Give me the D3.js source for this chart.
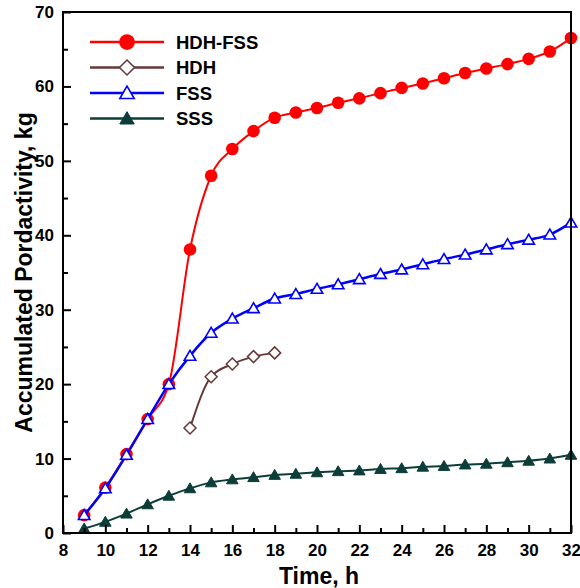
<!DOCTYPE html>
<html>
<head>
<meta charset="utf-8">
<script src="https://cdn.jsdelivr.net/npm/d3@7"></script>
<style>
  body { margin: 0; background: #fff; }
  text { font-family: "Liberation Sans", Arial, sans-serif; font-weight: bold; }
</style>
</head>
<body>
<div id="chart"></div>
<script>
// Chart data.
var hours = [9, 10, 11, 12, 13, 14, 15, 16, 17, 18, 19, 20, 21, 22, 23, 24, 25, 26, 27, 28, 29, 30, 31, 32];
var hdhFss = [2.4, 6.1, 10.6, 15.3, 20.0, 38.1, 48.0, 51.6, 54.0, 55.8, 56.5, 57.1, 57.8, 58.4, 59.1, 59.8, 60.4, 61.1, 61.8, 62.4, 63.0, 63.7, 64.7, 66.5];
var hdhHours = [14, 15, 16, 17, 18];
var hdh = [14.1, 21.0, 22.7, 23.7, 24.2];
var fss = [2.4, 6.0, 10.5, 15.3, 20.0, 23.8, 26.9, 28.8, 30.2, 31.5, 32.1, 32.8, 33.4, 34.1, 34.8, 35.4, 36.1, 36.8, 37.4, 38.1, 38.8, 39.4, 40.1, 41.7];
var sss = [0.6, 1.5, 2.6, 3.85, 5.0, 6.0, 6.8, 7.2, 7.5, 7.8, 7.95, 8.15, 8.3, 8.4, 8.6, 8.7, 8.9, 9.0, 9.2, 9.3, 9.5, 9.7, 10.0, 10.5];
var xTicks = [8, 10, 12, 14, 16, 18, 20, 22, 24, 26, 28, 30, 32];
var yTicks = [0, 10, 20, 30, 40, 50, 60, 70];

var width = 580;
var height = 588;
var margin = { top: 12, right: 9, bottom: 55, left: 63 };

var series = [
  { name: "HDH-FSS", x: hours, y: hdhFss, color: "#ff0000", marker: "circle", fill: true, lw: 2 },
  { name: "HDH", x: hdhHours, y: hdh, color: "#663838", marker: "diamond", fill: false, lw: 2 },
  { name: "FSS", x: hours, y: fss, color: "#0000ff", marker: "triangle", fill: false, lw: 2.5 },
  { name: "SSS", x: hours, y: sss, color: "#0c3d38", marker: "triangle", fill: true, lw: 2 }
];

var svg = d3.select("#chart").append("svg")
  .attr("width", width)
  .attr("height", height);

var x = d3.scaleLinear().domain([8, 32]).range([margin.left, width - margin.right]);
var y = d3.scaleLinear().domain([0, 70]).range([height - margin.bottom, margin.top]);

// Draw a marker shape centred at (cx, cy).
function drawMarker(g, s, cx, cy, k) {
  if (s.marker == "circle") {
    g.append("circle").attr("cx", cx).attr("cy", cy).attr("r", 6.3 * k)
      .attr("fill", s.color).attr("stroke", "none");
  } else if (s.marker == "diamond") {
    var d = 6 * k;
    g.append("path")
      .attr("d", "M" + cx + "," + (cy - d) + "L" + (cx + d) + "," + cy + "L" + cx + "," + (cy + d) + "L" + (cx - d) + "," + cy + "Z")
      .attr("fill", "#fff").attr("stroke", s.color).attr("stroke-width", 1.5);
  } else {
    var h = 5.5 * k;
    g.append("path")
      .attr("d", "M" + cx + "," + (cy - h) + "L" + (cx + h * 1.05) + "," + (cy + h * 0.8) + "L" + (cx - h * 1.05) + "," + (cy + h * 0.8) + "Z")
      .attr("fill", s.fill ? s.color : "#fff").attr("stroke", s.color).attr("stroke-width", s.fill ? 1 : 1.6);
  }
}

var plot = svg.append("g");

series.forEach(function(s) {
  var pts = s.x.map(function(v, i) { return [v, s.y[i]]; });
  var line = d3.line()
    .x(function(d) { return x(d[0]); })
    .y(function(d) { return y(d[1]); })
    .curve(d3.curveMonotoneX);
  var g = plot.append("g");
  g.append("path")
    .attr("d", line(pts))
    .attr("fill", "none")
    .attr("stroke", s.color)
    .attr("stroke-width", s.lw);
  pts.forEach(function(p) {
    drawMarker(g, s, x(p[0]), y(p[1]), 1);
  });
});

// Axes: ticks pointing inward.
var xAxis = d3.axisBottom(x).tickValues(d3.range(8, 33, 1)).tickSize(-8).tickPadding(9)
  .tickFormat(function(d) { return xTicks.indexOf(d) >= 0 ? d : ""; });
var gx = svg.append("g")
  .attr("transform", "translate(0," + (height - margin.bottom) + ")")
  .call(xAxis);
gx.selectAll(".tick line").attr("y2", function(d) { return d % 2 == 0 ? -8 : -5; });

var yAxis = d3.axisLeft(y).tickValues(d3.range(0, 71, 5)).tickSize(-8).tickPadding(9)
  .tickFormat(function(d) { return yTicks.indexOf(d) >= 0 ? d : ""; });
var gy = svg.append("g")
  .attr("transform", "translate(" + margin.left + ",0)")
  .call(yAxis);
gy.selectAll(".tick line").attr("x2", function(d) { return d % 10 == 0 ? 8 : 5; });

[gx, gy].forEach(function(g) {
  g.select(".domain").remove();
  g.selectAll(".tick line").attr("stroke", "#000").attr("stroke-width", 2);
  g.selectAll(".tick text")
    .attr("fill", "#000")
    .style("font-size", "17px")
    .style("font-family", "'Liberation Sans', Arial, sans-serif")
    .style("font-weight", "bold");
});
gx.selectAll(".tick text").attr("dy", "0.85em");

// Frame
svg.append("rect")
  .attr("x", margin.left)
  .attr("y", margin.top)
  .attr("width", width - margin.left - margin.right)
  .attr("height", height - margin.top - margin.bottom)
  .attr("fill", "none")
  .attr("stroke", "#000")
  .attr("stroke-width", 2);

// Axis titles
svg.append("text")
  .attr("x", (margin.left + width - margin.right) / 2 + 2)
  .attr("y", 584)
  .attr("text-anchor", "middle")
  .style("font-size", "23px")
  .text("Time, h");

svg.append("text")
  .attr("transform", "translate(32," + ((margin.top + height - margin.bottom) / 2) + ") rotate(-90)")
  .attr("text-anchor", "middle")
  .style("font-size", "23px")
  .text("Accumulated Pordactivity, kg");

// Legend
var legend = svg.append("g");
series.forEach(function(s, i) {
  var ly = 42 + i * 25.5;
  legend.append("line")
    .attr("x1", 90).attr("x2", 164)
    .attr("y1", ly).attr("y2", ly)
    .attr("stroke", s.color)
    .attr("stroke-width", 2.5);
  drawMarker(legend, s, 127, ly, 1.25);
  legend.append("text")
    .attr("x", 176)
    .attr("y", ly)
    .attr("dy", "0.36em")
    .style("font-size", "18.5px")
    .text(s.name);
});
</script>
</body>
</html>
